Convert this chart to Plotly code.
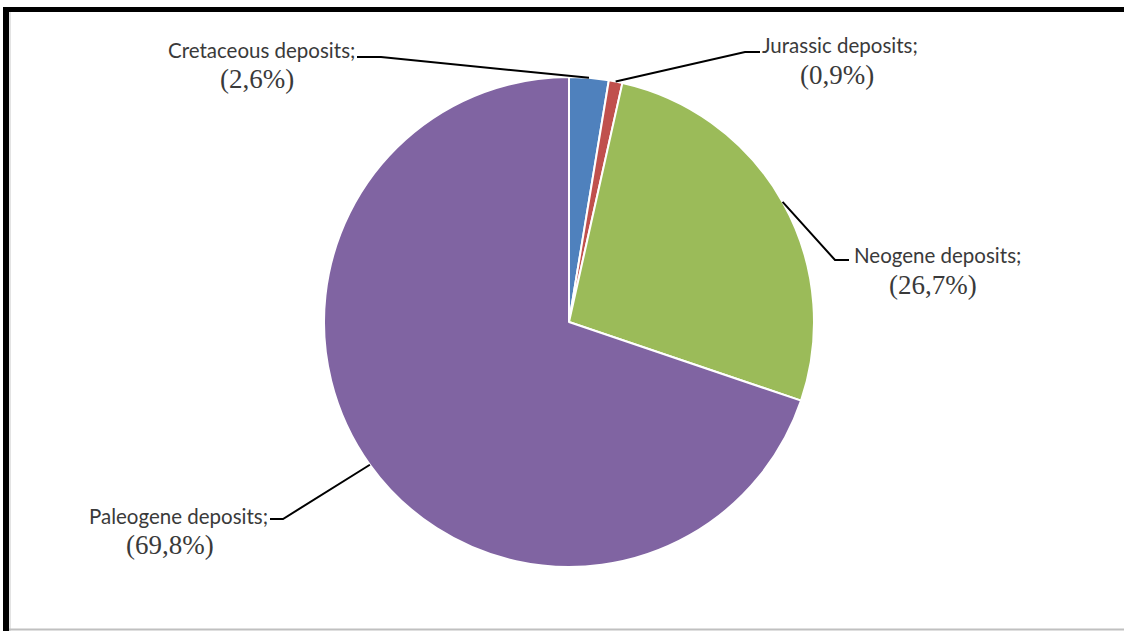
import math
import plotly.graph_objects as go

# ---- data ----
labels = ["Cretaceous deposits", "Jurassic deposits", "Neogene deposits", "Paleogene deposits"]
values = [2.6, 0.9, 26.7, 69.8]
colors = ["#4F81BD", "#C0504D", "#9BBB59", "#8064A2"]

# ---- layout geometry (pixels) ----
W, H = 1124, 631
CX, CY, R = 569, 322, 245

# name centre x, percent centre x, name line y, percent line y, leader elbow & end of horizontal stub
label_pos = [
    (261, 257, 50, 79, (381, 57), (357, 57)),
    (840, 837, 45, 75, (745, 52), (760, 52)),
    (937, 933, 255, 285, (835, 260), (849, 260)),
    (178, 170, 516, 545, (283, 519), (270, 519)),
]

def px(x):
    return x / W

def py(y):
    return 1 - y / H

fig = go.Figure()
fig.add_trace(go.Pie(
    labels=labels, values=values, sort=False, direction="clockwise", rotation=0,
    marker=dict(colors=colors, line=dict(color="white", width=2)),
    textinfo="none", hoverinfo="label+percent", showlegend=False,
    domain=dict(x=[px(CX - R), px(CX + R)], y=[py(CY + R), py(CY - R)]),
))

shapes = []
annotations = []
total = sum(values)
cum = 0.0
for name, v, (nx, pxx, ny, pyy, elbow, stub) in zip(labels, values, label_pos):
    mid = (cum + v / 2) / total * 2 * math.pi
    cum += v
    ex = CX + R * math.sin(mid)
    ey = CY - R * math.cos(mid)
    path = f"M {px(ex)},{py(ey)} L {px(elbow[0])},{py(elbow[1])} L {px(stub[0])},{py(stub[1])}"
    shapes.append(dict(type="path", xref="paper", yref="paper", path=path,
                       line=dict(color="black", width=2)))
    annotations.append(dict(x=px(nx), y=py(ny), xref="paper", yref="paper",
                            text=f"{name};", showarrow=False, xanchor="center", yanchor="middle",
                            font=dict(family="Lato, Open Sans, sans-serif", size=20.5, color="#3A3A3A")))
    pct = f"({v:.1f}%)".replace(".", ",")
    annotations.append(dict(x=px(pxx), y=py(pyy), xref="paper", yref="paper",
                            text=pct, showarrow=False, xanchor="center", yanchor="middle",
                            font=dict(family="Liberation Serif, Times New Roman, serif", size=27, color="#3A3A3A")))

# frame
shapes += [
    dict(type="rect", xref="paper", yref="paper", x0=px(3), x1=px(W), y0=py(12), y1=py(7),
         fillcolor="black", line=dict(width=0)),
    dict(type="rect", xref="paper", yref="paper", x0=px(3), x1=px(9), y0=py(H), y1=py(7),
         fillcolor="black", line=dict(width=0)),
    dict(type="line", xref="paper", yref="paper", x0=px(10), x1=px(10), y0=py(H), y1=py(12),
         line=dict(color="#C8C8C8", width=1)),
    dict(type="line", xref="paper", yref="paper", x0=px(9), x1=px(W), y0=py(629.5), y1=py(629.5),
         line=dict(color="#C0C0C0", width=2)),
]

fig.update_layout(
    width=W, height=H, margin=dict(l=0, r=0, t=0, b=0),
    paper_bgcolor="white", plot_bgcolor="white",
    shapes=shapes, annotations=annotations,
)

fig.write_html("out.html", config={"displayModeBar": False},
               post_script="document.body.style.margin='0';document.body.style.overflow='hidden';")
